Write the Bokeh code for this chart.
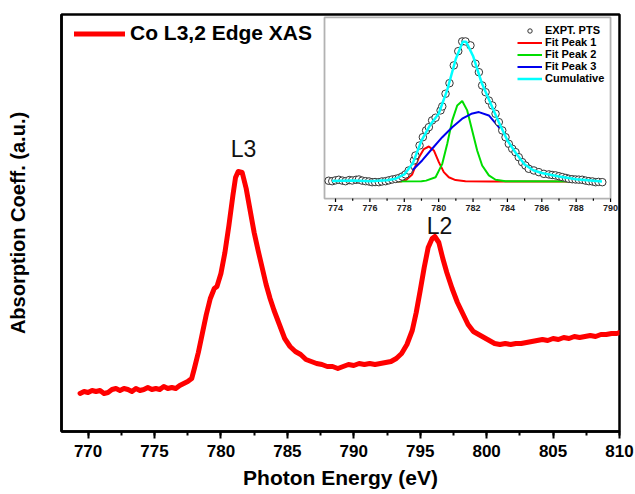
from bokeh.plotting import figure
from bokeh.models import (Range1d, Legend, LegendItem, Label, BoxAnnotation,
                          SingleIntervalTicker, FixedTicker)
from bokeh.core.properties import value
from bokeh.embed import file_html
from bokeh.resources import INLINE

# ---------------- main spectrum (photon energy eV, absorption a.u.) ----------------
energy = [769.4, 769.7, 770.0, 770.3, 770.6, 770.9, 771.2, 771.5, 771.8, 772.1, 772.4, 772.7,
          773.0, 773.3, 773.6, 773.9, 774.2, 774.5, 774.8, 775.1, 775.4, 775.7, 776.0, 776.3,
          776.6, 776.9, 777.2, 777.5, 777.8, 778.0, 778.3, 778.6, 778.9, 779.2, 779.5, 779.7,
          780.0, 780.3, 780.6, 780.9, 781.1, 781.3, 781.6, 781.9, 782.2, 782.5, 782.8, 783.1,
          783.4, 783.7, 784.0, 784.4, 784.8, 785.2, 785.6, 786.0, 786.4, 786.8, 787.2, 787.6,
          788.0, 788.4, 788.8, 789.2, 789.6, 790.0, 790.4, 790.8, 791.2, 791.6, 792.0, 792.4,
          792.8, 793.2, 793.6, 794.0, 794.4, 794.7, 795.0, 795.3, 795.6, 795.9, 796.1, 796.4,
          796.7, 797.0, 797.4, 797.8, 798.2, 798.6, 799.0, 799.4, 799.8, 800.2, 800.6, 801.0,
          801.4, 801.8, 802.2, 802.6, 803.0, 803.4, 803.8, 804.2, 804.6, 805.0, 805.4, 805.8,
          806.2, 806.6, 807.0, 807.4, 807.8, 808.2, 808.6, 809.0, 809.4, 809.8, 810.0]
absorption = [38, 40, 39, 41, 40, 41, 38, 39, 42, 43, 41, 43,
              42, 40, 43, 41, 42, 44, 42, 43, 42, 45, 43, 44,
              43, 46, 48, 50, 53, 63, 79, 98, 117, 133, 143, 145,
              158, 179, 206, 236, 254, 260, 259, 243, 221, 199, 181, 164,
              147, 133, 121, 107, 93, 85, 80, 77, 72, 70, 68, 67,
              65, 65, 63, 65, 67, 66, 68, 67, 68, 67, 68, 69,
              70, 73, 78, 87, 101, 119, 141, 164, 184, 193, 195, 189,
              173, 159, 143, 129, 118, 107, 100, 97, 94, 91, 88, 87,
              88, 87, 88, 88, 89, 90, 91, 92, 91, 93, 92, 94,
              93, 95, 94, 95, 96, 95, 97, 97, 98, 98, 99]

peak_names = ["L3", "L2"]
peak_x = [781.7, 796.45]
peak_y = [283, 206]

# ---------------- inset: L3 edge fit ----------------
expt_x = [773.6, 773.81, 774.0, 774.19, 774.4, 774.58, 774.8, 774.97, 775.2, 775.36, 775.55, 775.75,
          775.95, 776.13, 776.3, 776.52, 776.7, 776.91, 777.1, 777.3, 777.5, 777.68, 777.88, 778.07,
          778.26, 778.56, 778.65, 778.89, 779.08, 779.27, 779.43, 779.62, 779.82, 780.11, 780.21,
          780.4, 780.63, 780.88, 781.14, 781.37, 781.56, 781.85, 782.14, 782.34, 782.53, 782.73,
          782.92, 783.12, 783.31, 783.5, 783.7, 783.89, 784.08, 784.28, 784.47, 784.66, 784.86,
          785.05, 785.24, 785.54, 785.83, 786.12, 786.41, 786.6, 786.8, 787.0, 787.19, 787.4,
          787.57, 787.77, 787.96, 788.15, 788.35, 788.55, 788.74, 788.95, 789.13, 789.3, 789.52]
expt_y = [0.005, 0.002, 0.008, 0.012, 0.006, 0.002, 0.010, 0.007, 0.012, 0.014, 0.006, 0.002,
          0.000, -0.005, -0.004, -0.005, 0.000, 0.002, 0.008, 0.014, 0.018, 0.024, 0.035, 0.050,
          0.078, 0.149, 0.184, 0.255, 0.314, 0.362, 0.385, 0.433, 0.452, 0.504, 0.532,
          0.622, 0.697, 0.823, 0.924, 0.993, 0.993, 0.965, 0.835, 0.775, 0.681, 0.633,
          0.574, 0.539, 0.480, 0.421, 0.362, 0.314, 0.267, 0.232, 0.208, 0.172, 0.137,
          0.113, 0.090, 0.078, 0.066, 0.054, 0.050, 0.046, 0.043, 0.037, 0.031, 0.025,
          0.019, 0.016, 0.014, 0.013, 0.012, 0.006, 0.002, 0.000, -0.005, -0.003, -0.005]

cum_x = [773.8, 775.0, 776.0, 777.0, 777.5, 778.0, 778.5, 779.0, 779.5, 780.0, 780.5, 781.0,
         781.4, 781.6, 782.0, 782.5, 783.0, 783.5, 784.0, 784.5, 785.0, 785.5, 786.0, 787.0,
         788.0, 789.5]
cum_y = [0.004, 0.006, 0.002, 0.008, 0.02, 0.05, 0.13, 0.29, 0.40, 0.48, 0.65, 0.87,
         0.99, 0.99, 0.89, 0.70, 0.56, 0.42, 0.29, 0.20, 0.12, 0.08, 0.06, 0.035,
         0.015, 0.0]

fit1_x = [773.8, 777.8, 778.1, 778.46, 778.85, 779.14, 779.43, 779.72, 780.01, 780.3, 780.59,
          780.98, 781.56, 783.0, 789.5]
fit1_y = [0.0, 0.0, 0.01, 0.05, 0.17, 0.23, 0.248, 0.22, 0.137, 0.066, 0.03,
          0.01, 0.002, 0.0, 0.0]

fit2_x = [773.8, 779.0, 779.27, 779.82, 780.21, 780.5, 780.79, 781.08, 781.37, 781.66, 781.95,
          782.24, 782.53, 782.92, 783.31, 783.89, 789.5]
fit2_y = [0.0, 0.002, 0.006, 0.03, 0.125, 0.267, 0.433, 0.539, 0.570, 0.504, 0.362,
          0.22, 0.113, 0.043, 0.012, 0.002, 0.0]

fit3_x = [773.8, 776.5, 777.3, 777.88, 778.46, 779.04, 779.62, 780.21, 780.79, 781.37, 781.9,
          782.34, 782.92, 783.5, 784.08, 784.66, 785.24, 786.02, 786.8, 787.77, 789.52]
fit3_y = [0.0, 0.001, 0.008, 0.03, 0.078, 0.149, 0.232, 0.314, 0.385, 0.445, 0.48,
          0.492, 0.468, 0.385, 0.279, 0.184, 0.113, 0.054, 0.026, 0.007, 0.0]

inset_ticks = [774, 776, 778, 780, 782, 784, 786, 788, 790]
inset_minor = [775, 777, 779, 781, 783, 785, 787, 789]

# ---------------- figure ----------------
FONT = "'Liberation Sans', Arial, sans-serif"
NARROW = "'Liberation Sans Narrow', 'Liberation Sans', Arial, sans-serif"

p = figure(width=635, height=494, output_backend="svg", toolbar_location=None,
           x_range=Range1d(768, 810), y_range=Range1d(0, 417),
           min_border_left=61, min_border_right=16, min_border_top=14, min_border_bottom=63)
p.background_fill_color = "white"
p.border_fill_color = "white"
p.xgrid.visible = False
p.ygrid.visible = False
p.outline_line_color = "black"
p.outline_line_width = 2.5

xa = p.xaxis[0]
xa.ticker = SingleIntervalTicker(interval=5, num_minor_ticks=2)
xa.axis_line_width = 2.5
xa.major_tick_out = 7
xa.major_tick_in = 0
xa.minor_tick_out = 4
xa.minor_tick_in = 0
xa.major_tick_line_width = 2
xa.minor_tick_line_width = 2
xa.major_label_standoff = 6
xa.major_label_text_font = NARROW
xa.major_label_text_font_style = "bold"
xa.major_label_text_font_size = "17px"
xa.major_label_text_color = "black"
xa.axis_label = "Photon Energy (eV)"
xa.axis_label_text_font = FONT
xa.axis_label_text_font_style = "bold"
xa.axis_label_text_font_size = "21px"
xa.axis_label_text_color = "black"
xa.axis_label_standoff = 6

ya = p.yaxis[0]
ya.ticker = FixedTicker(ticks=[])
ya.axis_line_width = 2.5
ya.major_tick_out = 0
ya.minor_tick_out = 0
ya.axis_label = "Absorption Coeff. (a.u.)"
ya.axis_label_text_font = FONT
ya.axis_label_text_font_style = "bold"
ya.axis_label_text_font_size = "20px"
ya.axis_label_text_color = "black"
ya.axis_label_standoff = 33

main = p.line(energy, absorption, line_color="#ff0000", line_width=5, line_join="round",
              line_cap="round")

for name, px, py in zip(peak_names, peak_x, peak_y):
    p.add_layout(Label(x=px, y=py, text=name, text_align="center", text_baseline="middle",
                       text_font=FONT, text_font_size="23px", text_color="#111111"))

leg = Legend(items=[LegendItem(label="Co L3,2 Edge XAS", renderers=[main])],
             location=(13, 386), glyph_width=51, glyph_height=23, label_height=23,
             label_standoff=5, padding=0, margin=0, spacing=0,
             label_text_font=FONT, label_text_font_style="bold", label_text_font_size="21px",
             label_text_color="black", background_fill_alpha=0, border_line_alpha=0)
p.add_layout(leg)

# ---------------- inset ----------------
p.extra_x_ranges = {"ix": Range1d(758.06, 790.52)}
p.extra_y_ranges = {"iy": Range1d(-1.773, 1.184)}
ix0, ix1, iy0, iy1 = 773.36, 790.0, -0.121, 1.163

p.add_layout(BoxAnnotation(left=ix0, right=ix1, bottom=iy0, top=iy1, x_range_name="ix",
                           y_range_name="iy", fill_color="white", fill_alpha=1,
                           line_color="black", line_width=1.8, level="underlay"))

r1 = p.line(fit1_x, fit1_y, x_range_name="ix", y_range_name="iy", line_color="#ff0000",
            line_width=2)
r2 = p.line(fit2_x, fit2_y, x_range_name="ix", y_range_name="iy", line_color="#00dd00",
            line_width=2)
r3 = p.line(fit3_x, fit3_y, x_range_name="ix", y_range_name="iy", line_color="#0000ee",
            line_width=2)
rp = p.scatter(expt_x, expt_y, x_range_name="ix", y_range_name="iy", marker="circle", size=7.5,
               fill_color="white", line_color="#333333", line_width=1)
rc = p.line(cum_x, cum_y, x_range_name="ix", y_range_name="iy", line_color="#00ffff",
            line_width=2.5)

p.segment(x0=inset_ticks, y0=[iy0] * len(inset_ticks), x1=inset_ticks,
          y1=[iy0 - 0.025] * len(inset_ticks), x_range_name="ix", y_range_name="iy",
          line_color="black", line_width=1.2)
p.segment(x0=inset_minor, y0=[iy0] * len(inset_minor), x1=inset_minor,
          y1=[iy0 - 0.015] * len(inset_minor), x_range_name="ix", y_range_name="iy",
          line_color="black", line_width=1.2)
p.text(x=inset_ticks, y=[iy0] * len(inset_ticks), text=[str(t) for t in inset_ticks],
       x_range_name="ix", y_range_name="iy", text_align="center", text_baseline="middle",
       y_offset=9, text_font=value(FONT), text_font_style="bold", text_font_size="9px",
       text_color="#222222")

leg2 = Legend(items=[LegendItem(label="EXPT. PTS", renderers=[rp]),
                     LegendItem(label="Fit Peak 1", renderers=[r1]),
                     LegendItem(label="Fit Peak 2", renderers=[r2]),
                     LegendItem(label="Fit Peak 3", renderers=[r3]),
                     LegendItem(label="Cumulative", renderers=[rc])],
              location=(454, 345), glyph_width=25, glyph_height=11, label_height=11,
              label_standoff=3, padding=2, margin=0, spacing=-1,
              label_text_font=FONT, label_text_font_style="bold", label_text_font_size="11px",
              label_text_color="black", background_fill_alpha=0, border_line_alpha=0)
p.add_layout(leg2)

open("out.html", "w").write(file_html(p, INLINE))
